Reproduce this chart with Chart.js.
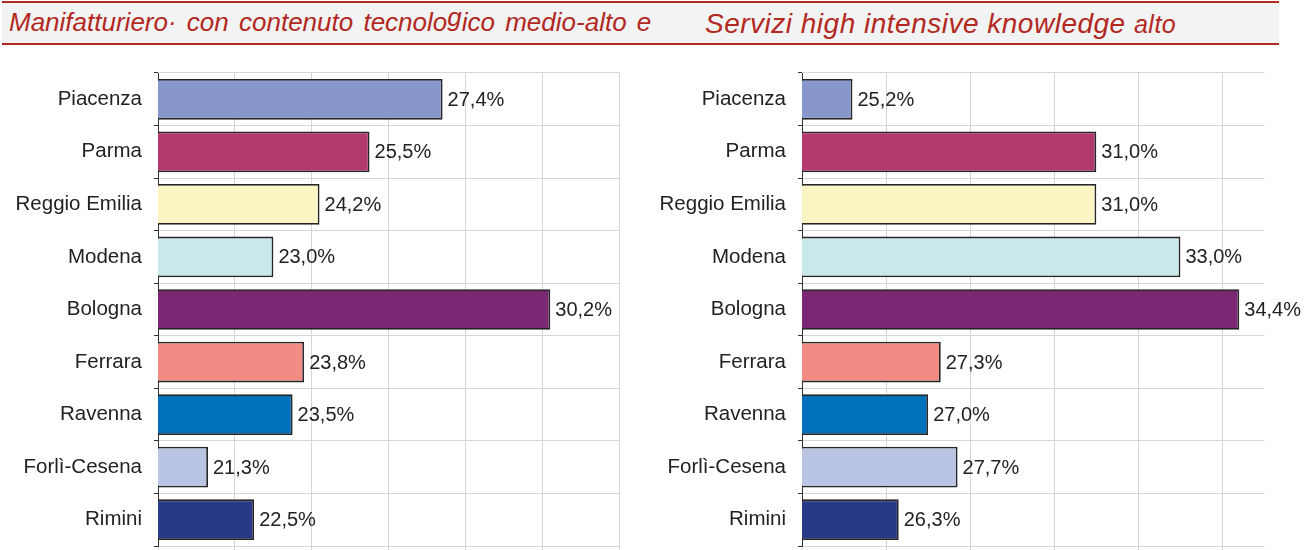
<!DOCTYPE html>
<html>
<head>
<meta charset="utf-8">
<script src="https://cdn.jsdelivr.net/npm/chart.js@4/dist/chart.umd.min.js"></script>
<style>
  body { margin: 0; width: 1309px; height: 550px; background: #fff; position: relative; overflow: hidden; font-family: 'Liberation Sans', Arial, sans-serif; }
  .band { position: absolute; left: 2px; top: 1px; width: 1277px; height: 40px; background: #f2f3f3; border-top: 2px solid #b3281f; border-bottom: 2px solid #b3281f; }
  .title { position: absolute; font-style: italic; color: #b3281f; white-space: nowrap; }
  .box { position: absolute; top: 60px; height: 490px; }
</style>
</head>
<body>
<div class="band"></div>
<div class="title" style="left:9px;top:9px;font-size:26px;line-height:26px;word-spacing:3px">Manifatturiero· con contenuto tecnolo<span style="position:relative;top:-5px">g</span>ico medio-alto e</div>
<div class="title" style="left:705px;top:10px;font-size:28px;line-height:28px;letter-spacing:0.5px">Servizi high intensive knowledge <span style="font-size:25px">alto</span></div>
<div class="box" style="left:0;width:650px"><canvas id="left"></canvas></div>
<div class="box" style="left:650px;width:659px"><canvas id="right"></canvas></div>

<script>
const provinces = ['Piacenza', 'Parma', 'Reggio Emilia', 'Modena', 'Bologna', 'Ferrara', 'Ravenna', 'Forlì-Cesena', 'Rimini'];
const manifatturiero = [27.4, 25.5, 24.2, 23.0, 30.2, 23.8, 23.5, 21.3, 22.5];
const servizi = [25.2, 31.0, 31.0, 33.0, 34.4, 27.3, 27.0, 27.7, 26.3];
const barColors = ['#8797cc', '#b33a6d', '#fbf5c3', '#c8e8ea', '#7a2873', '#f28b84', '#0070bb', '#bac4e3', '#283a86'];

const FONT = "'Liberation Sans', Arial, sans-serif";
const GRID_COLOR = '#d6d6d6';
const AXIS_COLOR = '#333';

const fmt = (v) => `${v.toFixed(1).replace('.', ',')}%`;

// value text just right of each bar end
const valueLabels = {
  id: 'valueLabels',
  afterDatasetsDraw(chart) {
    const { ctx } = chart;
    const values = chart.data.datasets[0].data;
    ctx.save();
    ctx.font = `20px ${FONT}`;
    ctx.fillStyle = '#222';
    ctx.textBaseline = 'middle';
    chart.getDatasetMeta(0).data.forEach((bar, i) => {
      ctx.fillText(fmt(values[i]), bar.x + 5, bar.y + 1);
    });
    ctx.restore();
  },
};

function noPadding(scale) {
  scale.paddingTop = 0;
  scale.paddingBottom = 0;
  scale.paddingLeft = 0;
  scale.paddingRight = 0;
}

function drawChart(id, values, min, max, axisX, padRight) {
  return new Chart(document.getElementById(id), {
    type: 'bar',
    data: {
      labels: provinces,
      datasets: [{
        data: values,
        backgroundColor: barColors,
        borderColor: '#262626',
        borderWidth: 1.8,
        borderSkipped: false,
        barPercentage: 0.775,
        categoryPercentage: 1,
      }],
    },
    options: {
      indexAxis: 'y',
      responsive: true,
      maintainAspectRatio: false,
      animation: false,
      layout: { padding: { top: 13, right: padRight, left: 0, bottom: 0 } },
      plugins: { legend: { display: false }, tooltip: { enabled: false } },
      scales: {
        x: {
          min, max,
          border: { display: false },
          grid: { color: GRID_COLOR, lineWidth: 1, drawTicks: true, tickLength: 4 },
          ticks: { display: false, stepSize: 2, includeBounds: false },
          afterFit: (scale) => { noPadding(scale); scale.height = 4; },
        },
        y: {
          border: { display: true, color: AXIS_COLOR, width: 1 },
          grid: { color: GRID_COLOR, tickColor: AXIS_COLOR, tickLength: 4, offset: true },
          ticks: { color: '#222', font: { family: FONT, size: 20.5 }, padding: 12 },
          afterFit: (scale) => { noPadding(scale); scale.width = axisX; },
        },
      },
    },
    plugins: [valueLabels],
  });
}

drawChart('left', manifatturiero, 20, 32, 158, 30.5);
drawChart('right', servizi, 24, 35, 152, 44.5);
</script>
</body>
</html>
